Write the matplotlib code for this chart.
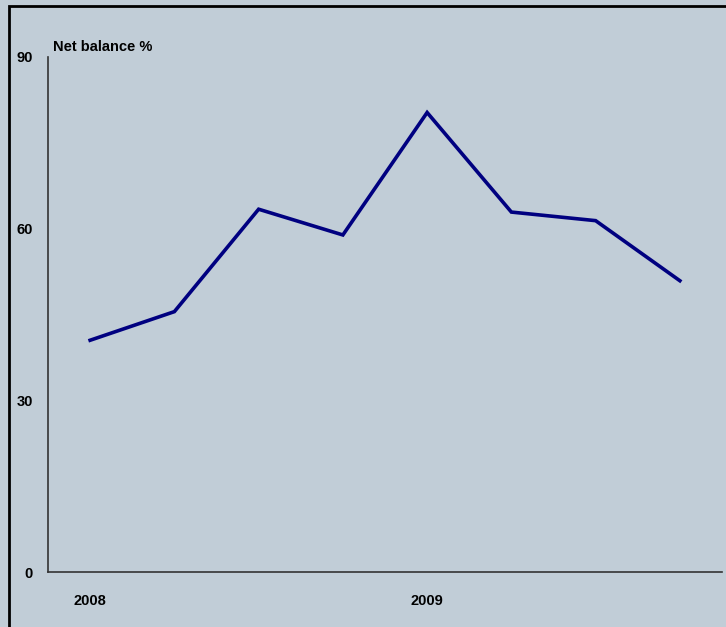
import matplotlib.pyplot as plt
from matplotlib.patches import Rectangle

quarters = ['2008 Q1', '2008 Q2', '2008 Q3', '2008 Q4', '2009 Q1', '2009 Q2', '2009 Q3', '2009 Q4']
net_balance = [40.5, 45.5, 63.4, 58.9, 80.3, 62.9, 61.4, 50.9]
year_labels = ['2008', '2009']
year_pos = [0, 4]

bg = '#c1cdd7'
plt.rcParams['font.family'] = ['Liberation Sans', 'DejaVu Sans']

fig = plt.figure(figsize=(7.26, 6.27), dpi=100, facecolor=bg)
ax = fig.add_axes([48/726, 1-572/627, 674/726, 515/627])
ax.set_facecolor(bg)

ax.plot(range(len(net_balance)), net_balance, color='#000080', lw=2.6, solid_joinstyle='miter')

ax.set_xlim(-0.5, 7.5)
ax.set_ylim(0, 90)
ax.set_yticks([0, 30, 60, 90])
ax.set_xticks(year_pos)
ax.set_xticklabels(year_labels)
ax.tick_params(length=0, labelsize=10.5)
for lab in ax.get_xticklabels() + ax.get_yticklabels():
    lab.set_fontweight('bold')
ax.tick_params(axis='y', pad=11)
ax.tick_params(axis='x', pad=16)

for s in ['top', 'right']:
    ax.spines[s].set_visible(False)
for s in ['left', 'bottom']:
    ax.spines[s].set_color('#333333')
    ax.spines[s].set_linewidth(1.2)

ax.text(0.008, 1.005, 'Net balance %', transform=ax.transAxes, fontsize=10.5,
        fontweight='bold', va='bottom', ha='left')

fig.add_artist(Rectangle((9/726, -0.1), 1.2, 1 - 6/627 + 0.1, transform=fig.transFigure,
                         fill=False, edgecolor='black', lw=2))

fig.savefig('out.png', dpi=100, facecolor=bg)
